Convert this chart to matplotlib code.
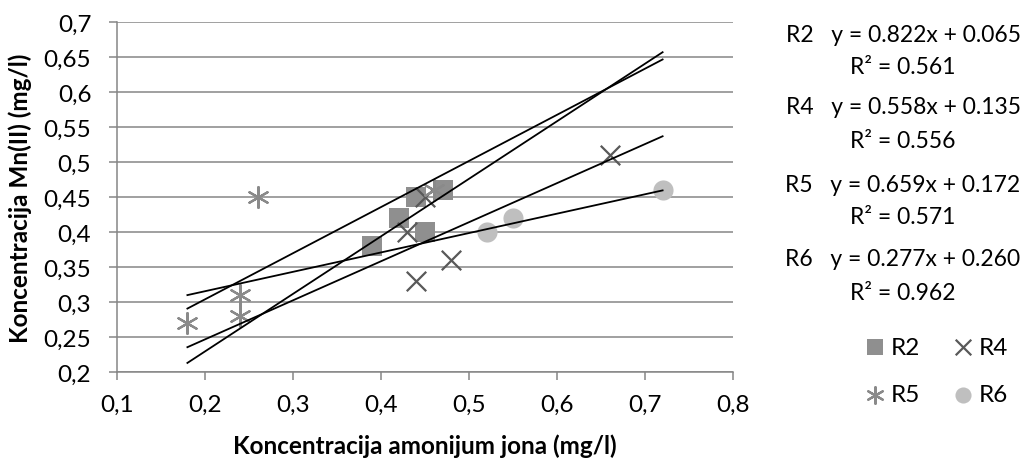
import matplotlib
matplotlib.use("Agg")
import matplotlib.pyplot as plt
import numpy as np

# ---- data ----
series_names = ["R2", "R4", "R5", "R6"]
r2_x = [0.39, 0.42, 0.44, 0.45, 0.47]
r2_y = [0.38, 0.42, 0.45, 0.40, 0.46]
r4_x = [0.43, 0.44, 0.45, 0.48, 0.66]
r4_y = [0.40, 0.33, 0.45, 0.36, 0.51]
r5_x = [0.18, 0.24, 0.24, 0.26, 0.46]
r5_y = [0.27, 0.31, 0.28, 0.45, 0.46]
r6_x = [0.52, 0.55, 0.72]
r6_y = [0.40, 0.42, 0.46]
slopes = [0.822, 0.558, 0.659, 0.277]
intercepts = [0.065, 0.135, 0.172, 0.260]
r_squared = [0.561, 0.556, 0.571, 0.962]
x_ticks = [0.1, 0.2, 0.3, 0.4, 0.5, 0.6, 0.7, 0.8]
y_ticks = [0.2, 0.25, 0.3, 0.35, 0.4, 0.45, 0.5, 0.55, 0.6, 0.65, 0.7]
x_label = "Koncentracija amonijum jona (mg/l)"
y_label = "Koncentracija Mn(II) (mg/l)"

plt.rcParams['font.family'] = ['Lato', 'DejaVu Sans']
W, H = 1029, 464
fig = plt.figure(figsize=(W / 100, H / 100), dpi=100)
L, R, T, B = 117, 733, 23, 373
ax = fig.add_axes([L / W, 1 - B / H, (R - L) / W, (B - T) / H])

FS = 17.5
grey = "#868686"
ax.set_xlim(0.1, 0.8)
ax.set_ylim(0.2, 0.7)
ax.set_xticks(x_ticks)
ax.set_yticks(y_ticks)
fmt = lambda v: ("%g" % v).replace(".", ",")
ax.set_xticklabels([fmt(v) for v in x_ticks])
ax.set_yticklabels([fmt(v) for v in y_ticks])
ax.grid(axis='y', color=grey, linewidth=1.1)
ax.set_axisbelow(True)
for s in ["top", "right"]:
    ax.spines[s].set_visible(False)
for s in ["left", "bottom"]:
    ax.spines[s].set_color(grey)
    ax.spines[s].set_linewidth(1.1)
ax.tick_params(axis='both', direction='out', color=grey, width=1.1, length=5.5,
               labelsize=FS, labelcolor="#000000")
ax.tick_params(axis='y', pad=13)
ax.tick_params(axis='x', pad=10)

h2 = ax.scatter(r2_x, r2_y, marker='s', s=14**2, color="#8f8f8f", linewidths=0, zorder=3)
h4 = ax.scatter(r4_x, r4_y, marker='x', s=14**2, color="#595959", linewidths=1.6, zorder=3)
h5 = ax.scatter(r5_x, r5_y, marker=(6, 2, 0), s=15**2, color="#8a8a8a", linewidths=1.6, zorder=3)
h6 = ax.scatter(r6_x, r6_y, marker='o', s=14.5**2, color="#bfbfbf", linewidths=0, zorder=3)

all_x = r2_x + r4_x + r5_x + r6_x
xs = np.array([min(all_x), max(all_x)])
for m, b in zip(slopes, intercepts):
    ax.plot(xs, m * xs + b, color="black", linewidth=1.3, zorder=4)

fig.text(20 / W, 1 - 198 / H, y_label, rotation=90, ha='center', va='center',
         fontsize=FS, fontweight='bold')
fig.text(425 / W, 1 - 446 / H, x_label, ha='center', va='center',
         fontsize=FS, fontweight='bold')

# equation labels
eq_y = [35, 108, 185, 260]
for name, m, b, r2, yy in zip(series_names, slopes, intercepts, r_squared, eq_y):
    fig.text(903 / W, 1 - yy / H, "%s   y = %.3fx + %.3f" % (name, m, b),
             ha='center', va='center', fontsize=16.5)
    fig.text(903 / W, 1 - (yy + 33) / H, "R² = %.3f" % r2,
             ha='center', va='center', fontsize=16.5)

leg = fig.legend([h2, h5, h4, h6], ["R2", "R5", "R4", "R6"], ncol=2,
                 loc='center', bbox_to_anchor=(935 / W, 1 - 372 / H),
                 frameon=False, fontsize=FS, handletextpad=0.1,
                 columnspacing=1.2, labelspacing=1.1, handlelength=1.1,
                 markerscale=0.8)

fig.savefig("out.png", dpi=100)
